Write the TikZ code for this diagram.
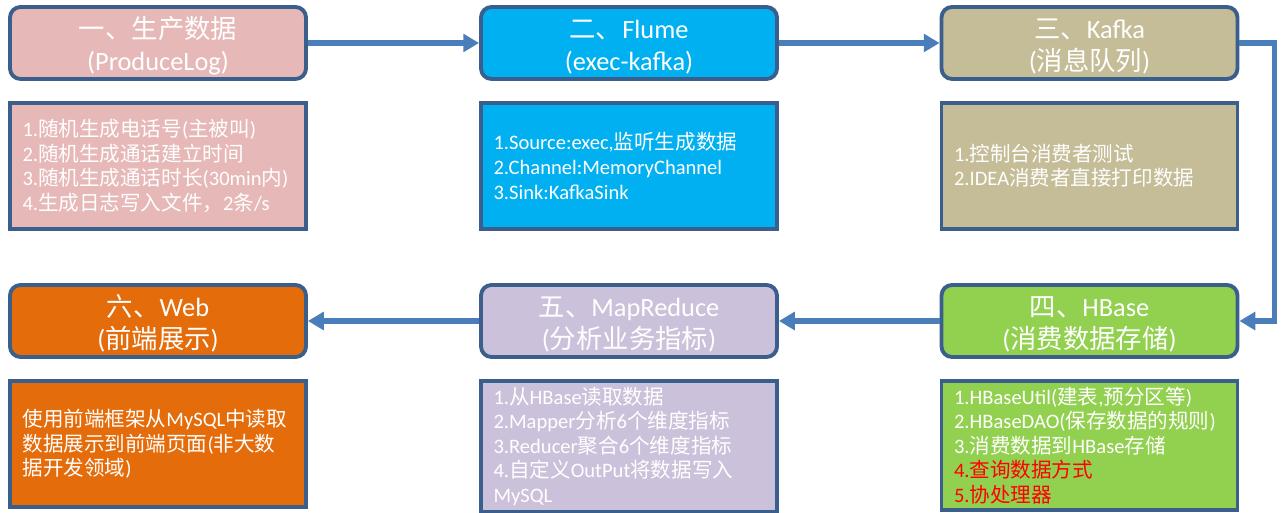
\documentclass[tikz,border=0pt]{standalone}
\usepackage{fontspec}
\setmainfont{Carlito}
\newfontfamily\zhfont{Noto Sans CJK SC}
\newcommand{\zh}[1]{{\zhfont #1}}
\usepackage{xcolor}
\usepackage{tikz}
\usetikzlibrary{arrows.meta, positioning, calc}

\definecolor{edgeblue}{HTML}{3A5F8C}
\definecolor{flowblue}{HTML}{4A7EBB}
\definecolor{producepink}{HTML}{E6B9B8}
\definecolor{flumecyan}{HTML}{00B0F0}
\definecolor{kafkatan}{HTML}{C4BD97}
\definecolor{hbasegreen}{HTML}{92D050}
\definecolor{mrlilac}{HTML}{CCC1DA}
\definecolor{weborange}{HTML}{E46C0A}

\begin{document}
\begin{tikzpicture}[
    title/.style={draw=edgeblue, line width=2.2pt, rounded corners=6pt,
        minimum width=5.92cm, minimum height=1.44cm, inner ysep=0pt, align=center,
        text=white, font=\fontsize{15}{18.2}\selectfont,
        text height=34pt, text depth=2.2pt},
    detail/.style={draw=edgeblue, line width=2.2pt,
        minimum width=5.92cm, minimum height=2.52cm, text width=5.42cm,
        align=left, text=white, font=\fontsize{11.7}{14}\selectfont},
    flow/.style={draw=flowblue, line width=3.2pt, -{Triangle[length=9pt,width=10pt]}}
]
\useasboundingbox (0,0) rectangle (25.7,10.26);

% Top row: produce -> flume -> kafka
\node[title, fill=producepink] (produce) at (3.16,9.40) {\zh{一、生产数据}\\(ProduceLog)};
\node[title, fill=flumecyan] (flume) at (12.58,9.40) {\zh{二、}Flume\\(exec-kafka)};
\node[title, fill=kafkatan] (kafka) at (21.79,9.40) {\zh{三、}Kafka\\(\zh{消息队列})};

\node[detail, fill=producepink, below=0.4cm of produce] (producetxt)
    {1.\zh{随机生成电话号}(\zh{主被叫})\\2.\zh{随机生成通话建立时间}\\3.\zh{随机生成通话时长}(30min\zh{内})\\4.\zh{生成日志写入文件，}2\zh{条}/s};
\node[detail, fill=flumecyan, below=0.4cm of flume] (flumetxt)
    {1.Source:exec,\zh{监听生成数据}\\2.Channel:MemoryChannel\\3.Sink:KafkaSink};
\node[detail, fill=kafkatan, below=0.4cm of kafka] (kafkatxt)
    {1.\zh{控制台消费者测试}\\2.IDEA\zh{消费者直接打印数据}};

% Bottom row: hbase -> mapreduce -> web
\node[title, fill=hbasegreen] (hbase) at (21.79,3.84) {\zh{四、}HBase\\(\zh{消费数据存储})};
\node[title, fill=mrlilac] (mr) at (12.58,3.84) {\zh{五、}MapReduce\\(\zh{分析业务指标})};
\node[title, fill=weborange] (web) at (3.16,3.84) {\zh{六、}Web\\(\zh{前端展示})};

\node[detail, fill=hbasegreen, below=0.4cm of hbase] (hbasetxt)
    {1.HBaseUtil(\zh{建表},\zh{预分区等})\\2.HBaseDAO(\zh{保存数据的规则})\\3.\zh{消费数据到}HBase\zh{存储}\\\textcolor{red}{4.\zh{查询数据方式}}\\\textcolor{red}{5.\zh{协处理器}}};
\node[detail, fill=mrlilac, below=0.4cm of mr] (mrtxt)
    {1.\zh{从}HBase\zh{读取数据}\\2.Mapper\zh{分析}6\zh{个维度指标}\\3.Reducer\zh{聚合}6\zh{个维度指标}\\4.\zh{自定义}OutPut\zh{将数据写入}\\MySQL};
\node[detail, fill=weborange, below=0.4cm of web] (webtxt)
    {\zh{使用前端框架从}MySQL\zh{中读取}\\\zh{数据展示到前端页面}(\zh{非大数}\\\zh{据开发领域})};

% Flow arrows
\draw[flow] (produce) -- (flume);
\draw[flow] (flume) -- (kafka);
\draw[flow] (kafka.east) -- ++(0.7,0) |- (hbase.east);
\draw[flow] (hbase) -- (mr);
\draw[flow] (mr) -- (web);
\end{tikzpicture}
\end{document}
